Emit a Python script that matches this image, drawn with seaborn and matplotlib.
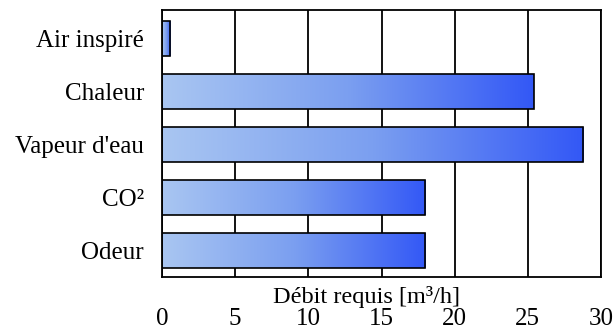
import matplotlib
matplotlib.use("Agg")
import matplotlib.pyplot as plt
import matplotlib.colors as mcolors
import numpy as np
import pandas as pd
import seaborn as sns

categories = ["Air inspiré", "Chaleur", "Vapeur d'eau", "CO²", "Odeur"]
values = [0.55, 25.4, 28.8, 18.0, 18.0]
xticks = [0, 5, 10, 15, 20, 25, 30]
xlabel = "Débit requis [m³/h]"

sns.set_theme(style="white")
plt.rcParams['font.family'] = ['Liberation Serif', 'DejaVu Serif']

df = pd.DataFrame({"cat": categories, "val": values})

fig = plt.figure(figsize=(6.16, 3.31), dpi=100)
ax = fig.add_axes([162/616, 1 - 277/331, (601 - 162)/616, (277 - 10)/331])

sns.barplot(data=df, x="val", y="cat", orient="h", ax=ax, width=0.66,
            color="#6a8ef0", edgecolor="black", linewidth=1.2, saturation=1)

cmap = mcolors.LinearSegmentedColormap.from_list("g", ["#a9c6f2", "#7b9ff0", "#3358f6"])
grad = np.linspace(0, 1, 256).reshape(1, -1)
for p in ax.patches:
    x0, y0 = p.get_x(), p.get_y()
    w, h = p.get_width(), p.get_height()
    im = ax.imshow(grad, cmap=cmap, extent=[x0, x0 + w, y0 + h, y0],
                   aspect="auto", zorder=2, interpolation="bilinear")
    im.set_clip_path(p)
    p.set_facecolor("none")
    p.set_zorder(3)

ax.set_xlim(0, 30)
ax.set_ylim(4.5, -0.53)
ax.set_xticks(xticks)
ax.set_xticklabels([str(t) for t in xticks])
ax.xaxis.grid(True, color="black", linewidth=1.3)
ax.set_axisbelow(True)
for s in ax.spines.values():
    s.set_color("black")
    s.set_linewidth(1.3)
ax.tick_params(axis="both", length=0, labelsize=18, colors="black")
ax.tick_params(axis="x", pad=22)
ax.tick_params(axis="y", pad=13)
ax.set_xlabel("")
ax.set_ylabel("")
ax.text(0.465, -0.097, xlabel, transform=ax.transAxes, ha="center", va="baseline",
        fontsize=17.5, color="black")

fig.savefig("out.png", dpi=100)
